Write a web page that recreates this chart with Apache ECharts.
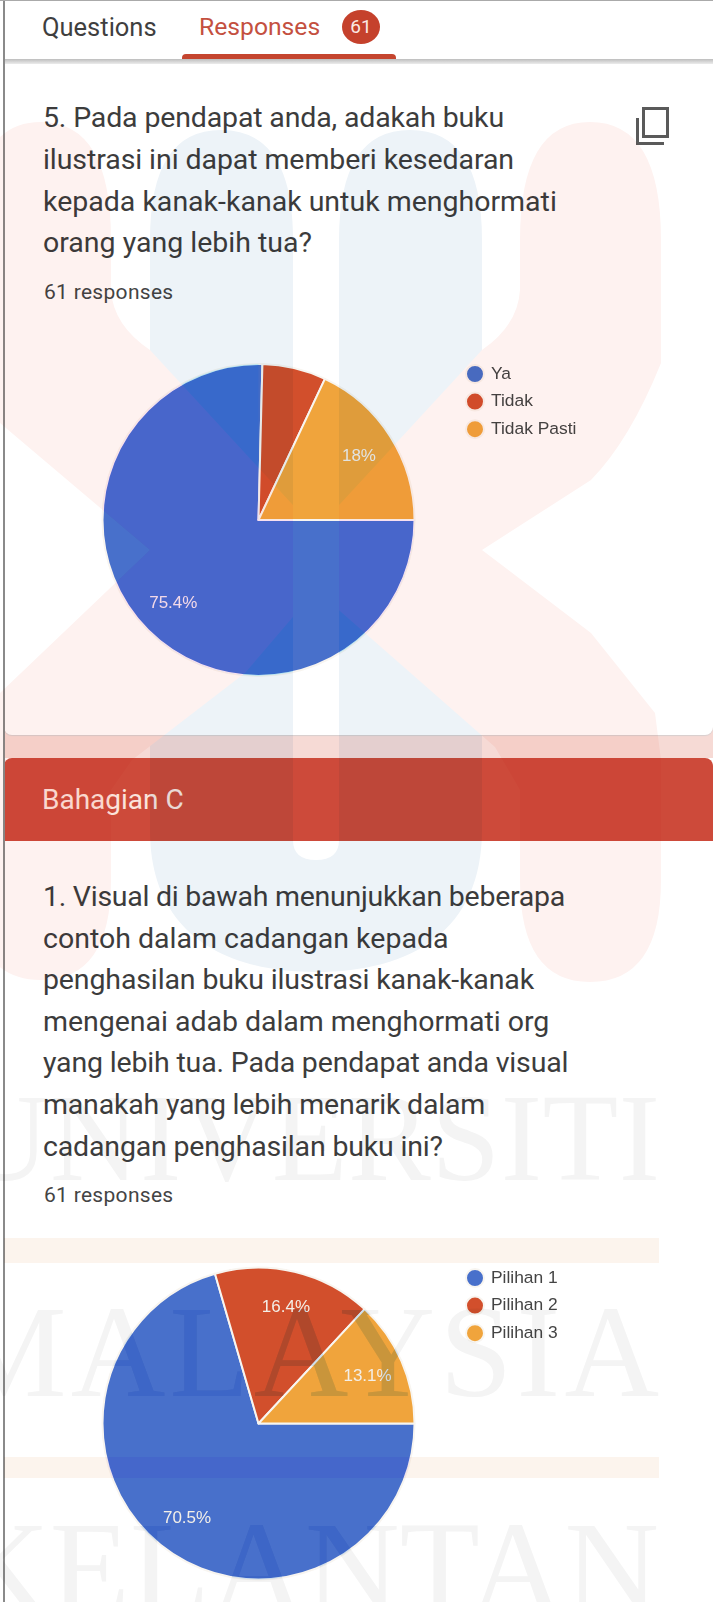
<!DOCTYPE html>
<html><head><meta charset="utf-8">
<script src="https://cdn.jsdelivr.net/npm/echarts@6/dist/echarts.min.js"></script>
<style>
html,body{margin:0;padding:0;background:#fff;}
#page{position:relative;width:713px;height:1602px;overflow:hidden;background:#fff;font-family:Roboto,sans-serif;}
.t{position:absolute;white-space:nowrap;color:#3a3a3a;}
.q{left:43px;font-size:28.5px;line-height:42px;height:42px;color:#3c3c3c;}
.r{left:44px;font-size:21px;line-height:24px;color:#444;letter-spacing:.3px;}
#chart{position:absolute;left:0;top:0;width:713px;height:1602px;}
#wm{position:absolute;left:0;top:0;pointer-events:none;mix-blend-mode:multiply;}
</style></head><body>
<div id="page">
 <div style="position:absolute;left:4px;top:59px;width:709px;height:5px;background:linear-gradient(#bdbdbd,#ececec)"></div>
 <div style="position:absolute;left:4px;top:700px;width:709px;height:58px;background:#f6dad5"></div>
 <div style="position:absolute;left:4px;top:690px;width:709px;height:45px;background:#fff;border-radius:0 0 8px 8px;box-shadow:0 1px 1px #d8cfcf"></div>
 <div style="position:absolute;left:4px;top:758px;width:709px;height:83px;background:#cd4a3a;border-radius:8px 8px 0 0"></div>
 <div style="position:absolute;left:3px;top:0;width:1.5px;height:1602px;background:#8a8a8a"></div>
 <div style="position:absolute;left:0;top:0;width:713px;height:1px;background:#aaa"></div>
 <div style="position:absolute;left:182px;top:54px;width:214px;height:5px;background:#c5452f;border-radius:4px 4px 0 0"></div>
 <div style="position:absolute;left:342px;top:10px;width:38px;height:34px;background:#c5412c;border-radius:50%"></div>
 <div class="t" style="left:42px;top:12px;font-size:25.5px;line-height:30px;color:#3f3f3f">Questions</div>
 <div class="t" style="left:199px;top:12px;font-size:24.7px;line-height:30px;color:#c4503f">Responses</div>
 <div class="t" style="left:342px;top:12px;width:38px;text-align:center;font-size:19px;line-height:30px;color:#fbe9e4">61</div>
 <div style="position:absolute;left:642px;top:107px;width:27px;height:31px;border:3px solid #5a5a5a;box-sizing:border-box;background:transparent"></div>
 <div style="position:absolute;left:636px;top:118px;width:3px;height:27px;background:#5a5a5a"></div>
 <div style="position:absolute;left:636px;top:142px;width:28px;height:3px;background:#5a5a5a"></div>
 <div class="t q" style="top:97px;letter-spacing:-.15px">5. Pada pendapat anda, adakah buku</div>
 <div class="t q" style="top:139px;letter-spacing:-.08px">ilustrasi ini dapat memberi kesedaran</div>
 <div class="t q" style="top:181px">kepada kanak-kanak untuk menghormati</div>
 <div class="t q" style="top:222px">orang yang lebih tua?</div>
 <div class="t r" style="top:280px">61 responses</div>
 <div class="t" style="left:42px;top:782px;font-size:28px;line-height:36px;color:#fbe3dc">Bahagian C</div>
 <div class="t q" style="top:876px;letter-spacing:-.26px">1. Visual di bawah menunjukkan beberapa</div>
 <div class="t q" style="top:918px">contoh dalam cadangan kepada</div>
 <div class="t q" style="top:959px;letter-spacing:-.13px">penghasilan buku ilustrasi kanak-kanak</div>
 <div class="t q" style="top:1001px;letter-spacing:-.03px">mengenai adab dalam menghormati org</div>
 <div class="t q" style="top:1042px;letter-spacing:-.17px">yang lebih tua. Pada pendapat anda visual</div>
 <div class="t q" style="top:1084px;letter-spacing:-.19px">manakah yang lebih menarik dalam</div>
 <div class="t q" style="top:1126px;letter-spacing:-.17px">cadangan penghasilan buku ini?</div>
 <div class="t r" style="top:1183px">61 responses</div>
 <div id="chart"></div>
 <svg id="wm" width="713" height="1602" viewBox="0 0 713 1602">
  <defs>
   <path id="pinkShape" d="M-29 240 Q-29 122 41 122 Q111 122 111 240 L111 290 Q113 325 150 350 L316 530 L482 350 Q518 325 520 290 L520 240 Q520 122 590 122 Q661 122 661 240 L661 363 Q630 440 591 480 L482 550 L591 633 L655 713 L661 760 L661 880 Q661 982 590 982 Q520 982 520 880 L520 790 L495 747 L316 590 L245 673 L132 760 L111 790 L111 880 Q111 980 41 980 Q-29 980 -29 880 L-29 693 L0 693 L150 550 L0 423 L-29 423 Z"/>
   <path id="blueShape" d="M150 240 Q150 130 221 130 Q293 130 293 240 L293 840 Q293 860 316 860 Q339 860 339 840 L339 240 Q339 130 410 130 Q482 130 482 240 L482 830 C482 930 412 972 316 972 C220 972 150 930 150 830 Z"/>
   <g id="bandShapes"><rect x="4" y="1238" width="655" height="25"/><rect x="4" y="1457" width="655" height="21"/></g>
   <g id="wmWords" font-family="'Liberation Serif',serif">
    <text x="-40" y="1180" font-size="124" textLength="700">UNIVERSITI</text>
    <text x="-50" y="1396" font-size="131" textLength="709">MALAYSIA</text>
    <text x="-45" y="1612" font-size="131" textLength="704">KELANTAN</text>
   </g>
   <clipPath id="notSlot"><rect x="-50" y="0" width="343" height="1000"/><rect x="339" y="0" width="400" height="1000"/></clipPath>
   <clipPath id="pies"><circle cx="258.5" cy="520" r="156"/><circle cx="258.5" cy="1423.5" r="156"/></clipPath>
   <clipPath id="firstBlue"><path d="M258.5 520 L258.5 364 A156 156 0 1 0 414.5 520 Z"/></clipPath>
  </defs>
  <use href="#blueShape" fill="#edf3f8"/>
  <g clip-path="url(#notSlot)"><use href="#pinkShape" fill="#fef2f0"/></g>
  <use href="#bandShapes" fill="#fcf4ed"/>
  <use href="#wmWords" fill="#f4f4f4"/>
  <g clip-path="url(#pies)">
   <g clip-path="url(#firstBlue)"><use href="#blueShape" fill="#c4f0ff"/></g>
   <g clip-path="url(#firstBlue)"><g clip-path="url(#notSlot)"><use href="#pinkShape" fill="#ffe8ff"/></g></g>
   <use href="#bandShapes" fill="#f2eaff"/>
   <use href="#wmWords" fill="#d6e8fa"/>
  </g>
 </svg>
</div>
<script>
var colors = ['#4870cb', '#d24f2c', '#f0a43c'];
var firstNames = ['Ya', 'Tidak', 'Tidak Pasti'];
var firstValues = [75.4, 6.6, 18];
var secondNames = ['Pilihan 1', 'Pilihan 2', 'Pilihan 3'];
var secondValues = [70.5, 16.4, 13.1];

function rows(names, values) {
  return names.map(function (n, i) { return { name: n, value: values[i] }; });
}
function solid(names, values, cy) {
  return { type: 'pie', center: [258.5, cy], radius: [0, 156], startAngle: 0, clockwise: true,
    animation: false, silent: true, label: { show: false }, labelLine: { show: false },
    itemStyle: { borderColor: '#f8f5f0', borderWidth: 2 },
    data: rows(names, values) };
}
function labels(names, values, cy) {
  return { type: 'pie', center: [258.5, cy], radius: [77, 155], startAngle: 0, clockwise: true,
    animation: false, silent: true, legendHoverLink: false, labelLine: { show: false },
    itemStyle: { color: 'transparent', borderWidth: 0 },
    label: { show: true, position: 'inside', color: '#f3efe8', fontSize: 17,
      fontFamily: "'Liberation Sans',Arial,sans-serif",
      formatter: function (p) { return p.value < 10 ? '' : p.value + '%'; } },
    data: rows(names, values) };
}
function legend(names, top) {
  return { orient: 'vertical', left: 465, top: top, padding: 0, icon: 'circle', itemWidth: 18, itemHeight: 18,
    itemGap: 7.6, selectedMode: false, data: names,
    textStyle: { fontSize: 17.4, color: '#444', padding: [0, 0, 0, 2],
      fontFamily: "'Liberation Sans',Arial,sans-serif" } };
}
var chart = echarts.init(document.getElementById('chart'), null, { renderer: 'canvas' });
chart.setOption({
  backgroundColor: 'transparent',
  color: colors,
  legend: [legend(firstNames, 364), legend(secondNames, 1268)],
  series: [solid(firstNames, firstValues, 520), labels(firstNames, firstValues, 520),
           solid(secondNames, secondValues, 1423.5), labels(secondNames, secondValues, 1423.5)]
});
</script>
</body></html>
